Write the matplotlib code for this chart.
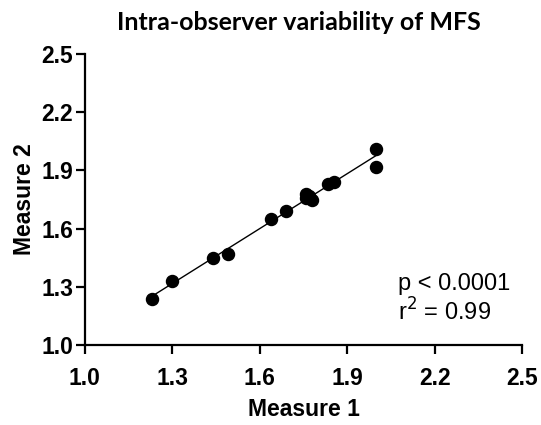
import numpy as np
import matplotlib.pyplot as plt

# values
measure_1 = [1.23, 1.30, 1.44, 1.49, 1.64, 1.69, 1.76, 1.76, 1.78, 1.77, 1.835, 1.855, 2.00, 2.00]
measure_2 = [1.24, 1.33, 1.45, 1.47, 1.65, 1.69, 1.78, 1.76, 1.75, 1.77, 1.83, 1.84, 2.01, 1.92]
tick_values = [1.0, 1.3, 1.6, 1.9, 2.2, 2.5]
tick_labels = ['1.0', '1.3', '1.6', '1.9', '2.2', '2.5']

plt.rcParams['font.family'] = ['Liberation Sans', 'DejaVu Sans']

fig = plt.figure(figsize=(5.41, 4.25), dpi=100)
ax = fig.add_axes([0.157, 0.188, 0.808, 0.685])

ax.scatter(measure_1, measure_2, s=75, color='black', zorder=3)

# linear fit over the data range
slope, intercept = np.polyfit(measure_1, measure_2, 1)
xs = np.array([min(measure_1), max(measure_1)])
ax.plot(xs, slope * xs + intercept, color='black', linewidth=1.0, zorder=2)

ax.set_xlim(1.0, 2.5)
ax.set_ylim(1.0, 2.5)
ax.set_xticks(tick_values)
ax.set_xticklabels(tick_labels)
ax.set_yticks(tick_values)
ax.set_yticklabels(tick_labels)

for side in ['top', 'right']:
    ax.spines[side].set_visible(False)
for side in ['left', 'bottom']:
    ax.spines[side].set_linewidth(1.6)
ax.tick_params(width=1.6, length=6.5, labelsize=16.5)
ax.tick_params(axis='x', pad=9)
ax.tick_params(axis='y', pad=2)
for lab in ax.get_xticklabels() + ax.get_yticklabels():
    lab.set_fontweight('bold')

ax.set_xlabel('Measure 1', fontsize=16.5, fontweight='bold', labelpad=6)
ax.set_ylabel('Measure 2', fontsize=16.5, fontweight='bold', labelpad=4)
fig.text(0.553, 0.948, 'Intra-observer variability of MFS', ha='center', va='center',
         fontsize=18, fontweight='bold', family=['Lato', 'DejaVu Sans'])

ax.text(2.075, 1.285, 'p < 0.0001', fontsize=17)
ax.text(2.075, 1.125, 'r$^2$ = 0.99', fontsize=17)

fig.savefig('out.png', dpi=100)
